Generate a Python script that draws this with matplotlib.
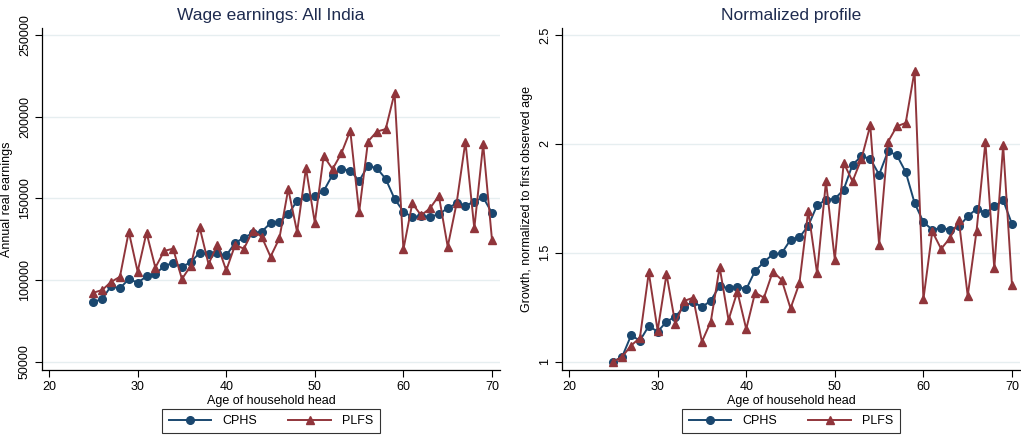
import numpy as np
import matplotlib
matplotlib.use('Agg')
import matplotlib.pyplot as plt
from matplotlib.lines import Line2D

# --------------------------------------------------
# 1) Data: wage earnings by age of household head
# --------------------------------------------------
age = list(range(25, 71))

cphs_earn = [86500, 88400, 96300, 94900, 100600, 98400, 102200, 103900, 108400, 110600,
             108000, 111000, 116700, 115700, 116300, 115100, 122700, 125900, 128800, 129600,
             134900, 135700, 140400, 148400, 150600, 151200, 154500, 164400, 167900, 167000,
             160700, 169900, 168500, 161900, 149700, 141900, 138500, 139200, 138800, 140200,
             144100, 146900, 145500, 148000, 150600, 141000]
plfs_earn = [92200, 93900, 98800, 102000, 129600, 105100, 129000, 107600, 117800, 119200,
             100600, 108800, 132200, 109800, 121600, 105900, 121400, 119200, 130200, 126500,
             114300, 125500, 155700, 129400, 168500, 135100, 176000, 167900, 177600, 191500,
             141500, 184800, 190900, 192400, 214500, 118800, 146900, 139600, 143900, 151600,
             120400, 146900, 184800, 131600, 183200, 124500]

# growth relative to first observed age
cphs_norm = [1.000, 1.023, 1.121, 1.097, 1.164, 1.138, 1.184, 1.207, 1.253, 1.276,
             1.250, 1.281, 1.348, 1.337, 1.345, 1.333, 1.417, 1.457, 1.494, 1.498,
             1.560, 1.571, 1.624, 1.718, 1.744, 1.748, 1.790, 1.905, 1.943, 1.932,
             1.859, 1.966, 1.948, 1.871, 1.729, 1.641, 1.606, 1.614, 1.606, 1.621,
             1.667, 1.702, 1.683, 1.713, 1.741, 1.632]
plfs_norm = [1.000, 1.023, 1.074, 1.110, 1.410, 1.143, 1.402, 1.173, 1.279, 1.294,
             1.092, 1.184, 1.434, 1.192, 1.322, 1.150, 1.317, 1.294, 1.414, 1.376,
             1.245, 1.360, 1.693, 1.406, 1.828, 1.468, 1.913, 1.828, 1.931, 2.085,
             1.537, 2.009, 2.081, 2.096, 2.335, 1.287, 1.598, 1.518, 1.568, 1.649,
             1.302, 1.601, 2.009, 1.428, 1.994, 1.350]

xticks = [20, 30, 40, 50, 60, 70]
earn_ticks = [50000, 100000, 150000, 200000, 250000]
norm_ticks = [1, 1.5, 2, 2.5]
norm_labels = ['1', '1.5', '2', '2.5']

# --------------------------------------------------
# 2) Style
# --------------------------------------------------
plt.rcParams['font.family'] = ['Liberation Sans', 'DejaVu Sans']
navy = '#1a476f'
maroon = '#90353b'
gridcol = '#e6eef0'
titlecol = '#1e2b4f'

fig = plt.figure(figsize=(10.21, 4.37), dpi=100)
ax1 = fig.add_axes([0.0411, 0.1533, 0.4486, 0.7826])
ax2 = fig.add_axes([0.5504, 0.1533, 0.4486, 0.7826])


def style_axes(ax, yticks, ylabels, ylim, ylabel, title):
    ax.set_xlim(19.2, 70.9)
    ax.set_ylim(*ylim)
    ax.set_xticks(xticks)
    ax.set_yticks(yticks)
    ax.set_yticklabels(ylabels, rotation=90, va='center')
    ax.tick_params(axis='both', direction='out', length=5, width=0.8, labelsize=9, pad=3)
    for s in ['top', 'right']:
        ax.spines[s].set_visible(False)
    for s in ['left', 'bottom']:
        ax.spines[s].set_linewidth(0.9)
    ax.yaxis.grid(True, color=gridcol, linewidth=1.0)
    ax.set_axisbelow(True)
    ax.set_xlabel('Age of household head', fontsize=9, labelpad=1)
    ax.set_ylabel(ylabel, fontsize=9, labelpad=4)
    ax.set_title(title, fontsize=12.5, color=titlecol, pad=6)


def draw_series(ax, ycphs, yplfs):
    ax.plot(age, ycphs, color=navy, linewidth=1.4, marker='o', markersize=5.5, zorder=3)
    ax.plot(age, yplfs, color=maroon, linewidth=1.4, marker='^', markersize=6, zorder=4)


# --------------------------------------------------
# 3) Left panel: earnings levels
# --------------------------------------------------
draw_series(ax1, cphs_earn, plfs_earn)
style_axes(ax1, earn_ticks, [str(t) for t in earn_ticks], (44900, 254300),
           'Annual real earnings', 'Wage earnings: All India')

# --------------------------------------------------
# 4) Right panel: normalized profile
# --------------------------------------------------
draw_series(ax2, cphs_norm, plfs_norm)
style_axes(ax2, norm_ticks, norm_labels, (0.962, 2.532),
           'Growth, normalized to first observed age', 'Normalized profile')

# legends below each panel
handles = [Line2D([], [], color=navy, linewidth=1.4, marker='o', markersize=5.5),
           Line2D([], [], color=maroon, linewidth=1.4, marker='^', markersize=6)]
for ax in [ax1, ax2]:
    leg = ax.legend(handles, ['CPHS', 'PLFS'], loc='upper center', bbox_to_anchor=(0.5, -0.095),
                    ncol=2, fontsize=9, frameon=True, fancybox=False, edgecolor='black',
                    handlelength=3.4, columnspacing=2.5, borderpad=0.5, handletextpad=0.9)
    leg.get_frame().set_linewidth(0.8)

fig.savefig('out.png', dpi=100)
